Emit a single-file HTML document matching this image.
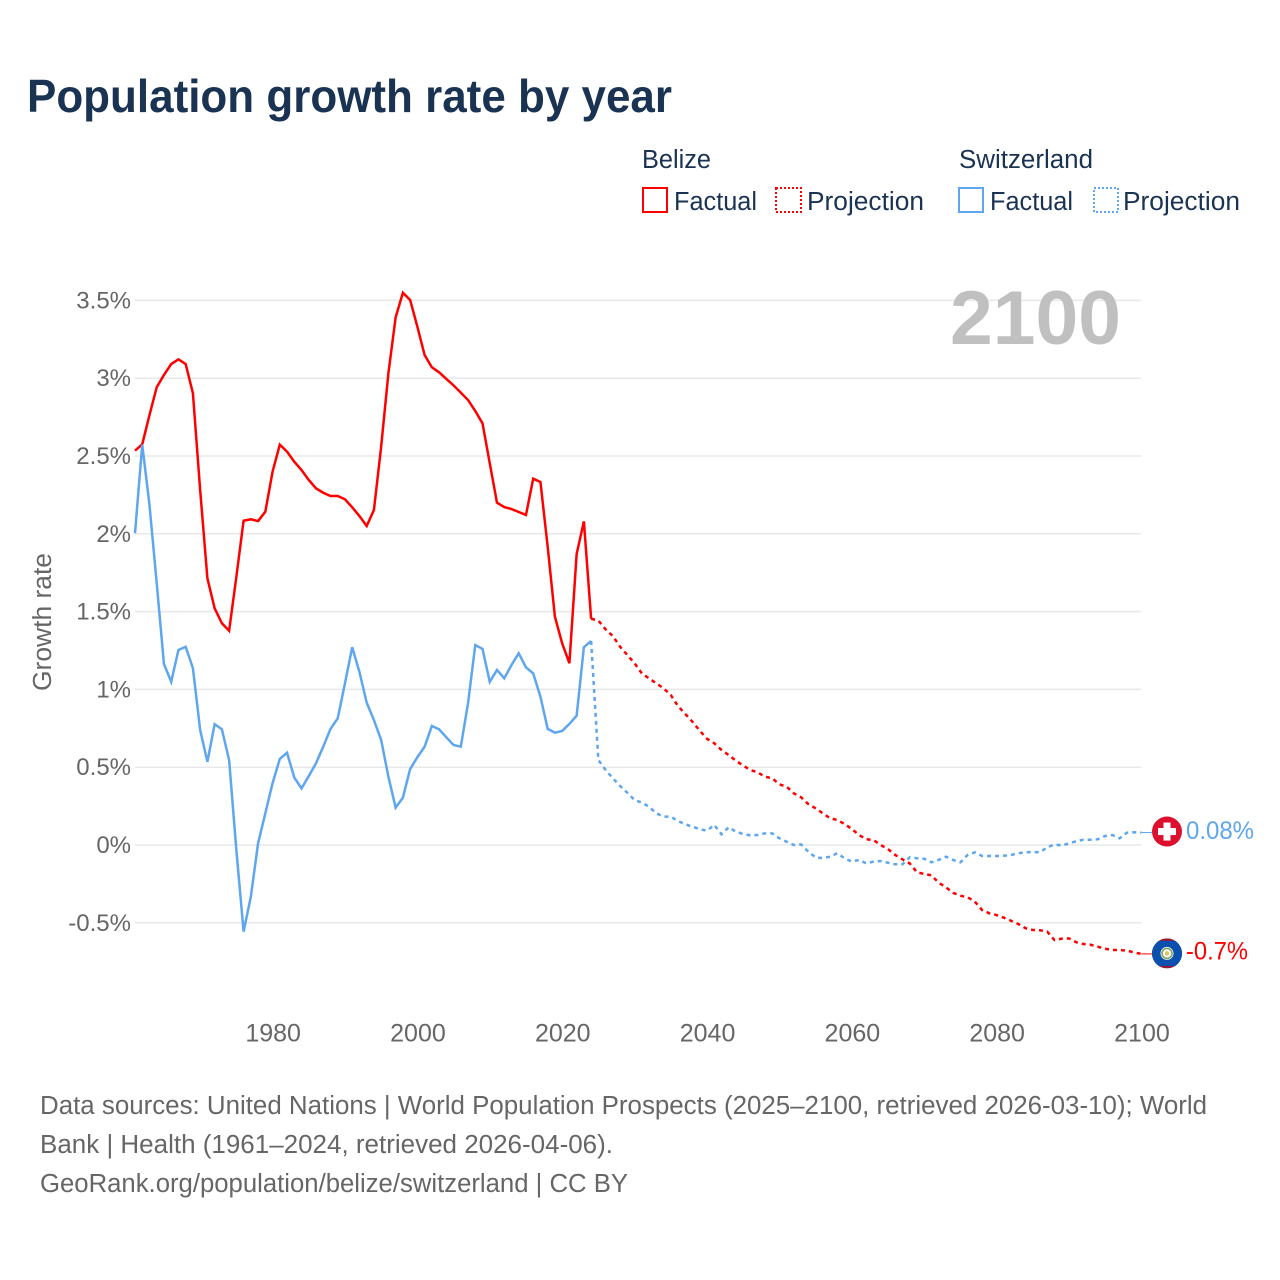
<!DOCTYPE html>
<html lang="en">
<head>
<meta charset="utf-8">
<title>Population growth rate by year</title>
<style>
html,body{margin:0;padding:0;background:#fff;}
svg{display:block;font-family:"Liberation Sans",sans-serif;}
</style>
</head>
<body>
<svg id="chart" width="1280" height="1280" viewBox="0 0 1280 1280" xmlns="http://www.w3.org/2000/svg">
  <rect x="0" y="0" width="1280" height="1280" fill="#ffffff"/>
  <text x="27" y="112" font-size="46" font-weight="700" fill="#1a3353" textLength="645" lengthAdjust="spacingAndGlyphs">Population growth rate by year</text>

  <g font-size="25.5" fill="#1a3353">
    <text x="642" y="168" textLength="69" lengthAdjust="spacingAndGlyphs">Belize</text>
    <text x="959" y="168" textLength="134" lengthAdjust="spacingAndGlyphs">Switzerland</text>
    <rect x="643" y="188" width="24" height="24" fill="none" stroke="#ff0000" stroke-width="2"/>
    <text x="674" y="210" textLength="83" lengthAdjust="spacingAndGlyphs">Factual</text>
    <rect x="776" y="188" width="25" height="24" fill="none" stroke="#ff0000" stroke-width="2" stroke-dasharray="2 2"/>
    <text x="807" y="210" textLength="117" lengthAdjust="spacingAndGlyphs">Projection</text>
    <rect x="959" y="188" width="24" height="24" fill="none" stroke="#5ea6ee" stroke-width="2"/>
    <text x="990" y="210" textLength="83" lengthAdjust="spacingAndGlyphs">Factual</text>
    <rect x="1094" y="188" width="24" height="24" fill="none" stroke="#5ea6ee" stroke-width="2" stroke-dasharray="2 2"/>
    <text x="1123" y="210" textLength="117" lengthAdjust="spacingAndGlyphs">Projection</text>
  </g>

  <g id="grid"></g>
  <g id="y-ticks" font-size="24" fill="#666666" text-anchor="end"></g>
  <g id="x-ticks" font-size="25" fill="#666666" text-anchor="middle"></g>

  <text transform="translate(51,691) rotate(-90)" font-size="25.5" fill="#666666" textLength="138" lengthAdjust="spacingAndGlyphs">Growth rate</text>
  <text x="950" y="344" font-size="76" font-weight="700" fill="#c0c0c0" textLength="171" lengthAdjust="spacingAndGlyphs">2100</text>

  <g id="series"></g>

  <g id="flag-ch">
    <circle cx="0" cy="0" r="15" fill="#dc0f2e"/>
    <rect x="-3.5" y="-9" width="7" height="18" fill="#ffffff"/>
    <rect x="-9" y="-3.5" width="18" height="7" fill="#ffffff"/>
  </g>
  <clipPath id="flag-bz-clip"><circle cx="0" cy="0" r="15"/></clipPath>
  <g id="flag-bz">
    <g clip-path="url(#flag-bz-clip)">
      <rect x="-15" y="-15" width="30" height="30" fill="#8e1b3a"/>
      <rect x="-15" y="-12.5" width="30" height="25" fill="#0a50ae"/>
    </g>
    <circle cx="0" cy="0" r="6.5" fill="#ffffff"/>
    <circle cx="0" cy="0" r="5" fill="none" stroke="#7fa35c" stroke-width="1.6"/>
    <circle cx="0" cy="0" r="2.3" fill="#d9c56a"/>
  </g>

  <text id="label-ch" x="1186" font-size="25" fill="#5ea6ee" textLength="68" lengthAdjust="spacingAndGlyphs">0.08%</text>
  <text id="label-bz" x="1186" font-size="25" fill="#ff0000" textLength="62" lengthAdjust="spacingAndGlyphs">-0.7%</text>

  <g font-size="25.5" fill="#666666">
    <text x="40" y="1114" textLength="1167" lengthAdjust="spacingAndGlyphs">Data sources: United Nations | World Population Prospects (2025–2100, retrieved 2026-03-10); World</text>
    <text x="40" y="1153" textLength="573" lengthAdjust="spacingAndGlyphs">Bank | Health (1961–2024, retrieved 2026-04-06).</text>
    <text x="40" y="1192" textLength="588" lengthAdjust="spacingAndGlyphs">GeoRank.org/population/belize/switzerland | CC BY</text>
  </g>
</svg>
<script>
const factualStartYear = 1961;
const projectionStartYear = 2024;
const yTickValues = [-0.5, 0, 0.5, 1, 1.5, 2, 2.5, 3, 3.5];
const yTickLabels = ['-0.5%', '0%', '0.5%', '1%', '1.5%', '2%', '2.5%', '3%', '3.5%'];
const xTickYears = [1980, 2000, 2020, 2040, 2060, 2080, 2100];
const xTickLabels = ['1980', '2000', '2020', '2040', '2060', '2080', '2100'];

// Growth rate in percent, 1961-2024
const belizeFactual = [
  2.534, 2.575, 2.763, 2.942, 3.021, 3.091, 3.121, 3.091, 2.903, 2.281,
  1.714, 1.521, 1.425, 1.377, 1.724, 2.084, 2.093, 2.082, 2.142, 2.399,
  2.573, 2.528, 2.463, 2.410, 2.346, 2.292, 2.264, 2.243, 2.243, 2.222,
  2.170, 2.114, 2.050, 2.153, 2.560, 3.032, 3.391, 3.549, 3.503, 3.331,
  3.149, 3.070, 3.038, 2.995, 2.954, 2.907, 2.860, 2.789, 2.710, 2.453,
  2.200, 2.172, 2.159, 2.140, 2.121, 2.354, 2.333, 1.917, 1.467, 1.296,
  1.168, 1.870, 2.080, 1.454
];
// Growth rate in percent, 2024-2100
const belizeProjection = [
  1.454, 1.442, 1.386, 1.343, 1.274, 1.221, 1.168, 1.103, 1.071, 1.039,
  1.007, 0.964, 0.893, 0.842, 0.792, 0.735, 0.683, 0.654, 0.611, 0.578,
  0.542, 0.510, 0.482, 0.467, 0.439, 0.429, 0.390, 0.375, 0.332, 0.307,
  0.263, 0.236, 0.204, 0.172, 0.161, 0.135, 0.103, 0.064, 0.037, 0.032,
  0, -0.026, -0.064, -0.092, -0.118, -0.175, -0.186, -0.195, -0.242, -0.272,
  -0.307, -0.326, -0.336, -0.364, -0.418, -0.439, -0.450, -0.467, -0.487, -0.508,
  -0.535, -0.546, -0.548, -0.557, -0.611, -0.602, -0.600, -0.625, -0.636, -0.641,
  -0.654, -0.667, -0.675, -0.675, -0.679, -0.690, -0.700
];
// Growth rate in percent, 1961-2024
const switzerlandFactual = [
  2.003, 2.573, 2.185, 1.682, 1.163, 1.049, 1.253, 1.274, 1.136, 0.739,
  0.535, 0.776, 0.744, 0.546, -0.032, -0.557, -0.332, 0.011, 0.204, 0.397,
  0.553, 0.593, 0.433, 0.364, 0.443, 0.525, 0.632, 0.746, 0.814, 1.039,
  1.271, 1.112, 0.915, 0.803, 0.675, 0.439, 0.240, 0.304, 0.488, 0.564,
  0.632, 0.765, 0.744, 0.692, 0.643, 0.632, 0.911, 1.285, 1.260, 1.049,
  1.125, 1.071, 1.157, 1.232, 1.142, 1.103, 0.953, 0.746, 0.722, 0.733,
  0.778, 0.831, 1.271, 1.311
];
// Growth rate in percent, 2024-2100
const switzerlandProjection = [
  1.311, 0.546, 0.482, 0.429, 0.379, 0.336, 0.289, 0.272, 0.246, 0.204,
  0.182, 0.182, 0.154, 0.133, 0.118, 0.101, 0.092, 0.129, 0.069, 0.114,
  0.085, 0.071, 0.062, 0.064, 0.075, 0.075, 0.043, 0.021, 0, 0.004,
  -0.043, -0.079, -0.085, -0.075, -0.053, -0.085, -0.107, -0.096, -0.118, -0.107,
  -0.103, -0.114, -0.124, -0.124, -0.079, -0.085, -0.088, -0.111, -0.096, -0.075,
  -0.096, -0.111, -0.064, -0.047, -0.071, -0.071, -0.071, -0.069, -0.064, -0.053,
  -0.047, -0.045, -0.047, -0.015, 0.004, -0.004, 0.011, 0.024, 0.034, 0.034,
  0.037, 0.058, 0.064, 0.043, 0.079, 0.082, 0.080
];

const NS = 'http://www.w3.org/2000/svg';
const RED = '#ff0000';
const BLUE = '#5ea6ee';
const LINE_WIDTH = '2.5';
const DASH = '4 4';
const xScale = function (year) { return 135 + (year - 1961) * 7.24; };
const yScale = function (value) { return 845 - value * 155.6; };

const gridGroup = document.getElementById('grid');
const yTickGroup = document.getElementById('y-ticks');
const xTickGroup = document.getElementById('x-ticks');
const seriesGroup = document.getElementById('series');

yTickValues.forEach(function (value, i) {
  const line = document.createElementNS(NS, 'line');
  
  
  line.setAttribute('x1', xScale(1961));
  line.setAttribute('x2', xScale(2100));
  line.setAttribute('y1', yScale(value));
  line.setAttribute('y2', yScale(value));
  line.setAttribute('stroke', '#e8e8e8');
  line.setAttribute('stroke-width', '1.5');
  gridGroup.appendChild(line);

  const label = document.createElementNS(NS, 'text');
  
  
  label.setAttribute('x', 131);
  label.setAttribute('y', yScale(value) + 8);
  label.textContent = yTickLabels[i];
  yTickGroup.appendChild(label);
});

xTickYears.forEach(function (year, i) {
  const label = document.createElementNS(NS, 'text');
  
  
  label.setAttribute('x', xScale(year) + 0.6);
  label.setAttribute('y', 1041.5);
  label.textContent = xTickLabels[i];
  xTickGroup.appendChild(label);
});

function buildPath(values, startYear) {
  return values.map(function (value, i) {
    return (i === 0 ? 'M' : 'L') + xScale(startYear + i).toFixed(2) + ' ' + yScale(value).toFixed(2);
  }).join(' ');
}

const belizeFactualLine = document.createElementNS(NS, 'path');


belizeFactualLine.setAttribute('d', buildPath(belizeFactual, factualStartYear));
belizeFactualLine.setAttribute('fill', 'none');
belizeFactualLine.setAttribute('stroke', RED);
belizeFactualLine.setAttribute('stroke-width', LINE_WIDTH);
seriesGroup.appendChild(belizeFactualLine);

const belizeProjectionLine = document.createElementNS(NS, 'path');


belizeProjectionLine.setAttribute('d', buildPath(belizeProjection, projectionStartYear));
belizeProjectionLine.setAttribute('fill', 'none');
belizeProjectionLine.setAttribute('stroke', RED);
belizeProjectionLine.setAttribute('stroke-width', LINE_WIDTH);
belizeProjectionLine.setAttribute('stroke-dasharray', DASH);
seriesGroup.appendChild(belizeProjectionLine);

const switzerlandFactualLine = document.createElementNS(NS, 'path');


switzerlandFactualLine.setAttribute('d', buildPath(switzerlandFactual, factualStartYear));
switzerlandFactualLine.setAttribute('fill', 'none');
switzerlandFactualLine.setAttribute('stroke', BLUE);
switzerlandFactualLine.setAttribute('stroke-width', LINE_WIDTH);
seriesGroup.appendChild(switzerlandFactualLine);

const switzerlandProjectionLine = document.createElementNS(NS, 'path');


switzerlandProjectionLine.setAttribute('d', buildPath(switzerlandProjection, projectionStartYear));
switzerlandProjectionLine.setAttribute('fill', 'none');
switzerlandProjectionLine.setAttribute('stroke', BLUE);
switzerlandProjectionLine.setAttribute('stroke-width', LINE_WIDTH);
switzerlandProjectionLine.setAttribute('stroke-dasharray', DASH);
seriesGroup.appendChild(switzerlandProjectionLine);

const belizeEndY = yScale(belizeProjection[belizeProjection.length - 1]);
const switzerlandEndY = yScale(switzerlandProjection[switzerlandProjection.length - 1]);

const belizeConnector = document.createElementNS(NS, 'line');


belizeConnector.setAttribute('x1', xScale(2100));
belizeConnector.setAttribute('x2', 1152);
belizeConnector.setAttribute('y1', belizeEndY);
belizeConnector.setAttribute('y2', belizeEndY);
belizeConnector.setAttribute('stroke', RED);
belizeConnector.setAttribute('stroke-width', '1');
seriesGroup.appendChild(belizeConnector);

const switzerlandConnector = document.createElementNS(NS, 'line');


switzerlandConnector.setAttribute('x1', xScale(2100));
switzerlandConnector.setAttribute('x2', 1152);
switzerlandConnector.setAttribute('y1', switzerlandEndY);
switzerlandConnector.setAttribute('y2', switzerlandEndY);
switzerlandConnector.setAttribute('stroke', BLUE);
switzerlandConnector.setAttribute('stroke-width', '1');
seriesGroup.appendChild(switzerlandConnector);

document.getElementById('flag-ch').setAttribute('transform', 'translate(1167,' + (switzerlandEndY - 1) + ')');
document.getElementById('flag-bz').setAttribute('transform', 'translate(1167,' + (belizeEndY - 0.5) + ')');
document.getElementById('label-ch').setAttribute('y', switzerlandEndY + 6.5);
document.getElementById('label-bz').setAttribute('y', belizeEndY + 5.5);
</script>
</body>
</html>
